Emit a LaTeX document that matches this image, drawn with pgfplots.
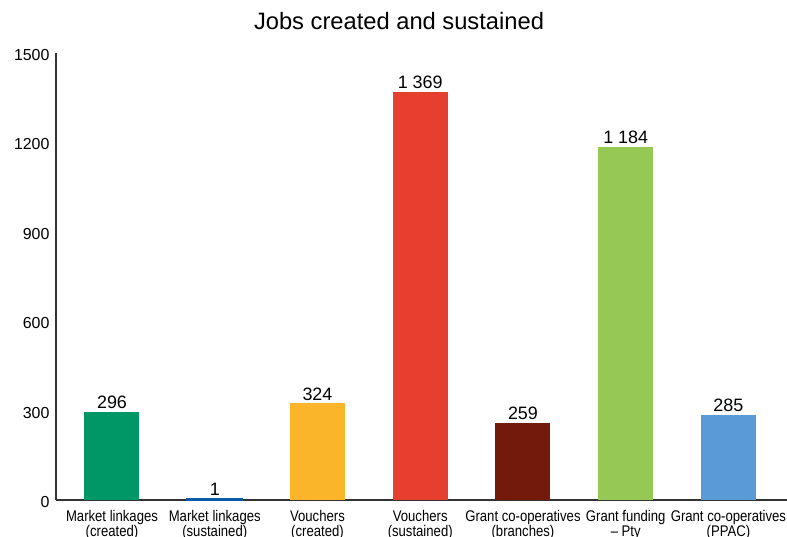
\documentclass[border=0pt]{standalone}
\usepackage{fontspec}
\setmainfont{Liberation Sans}
\newfontfamily\narrowfont[FakeStretch=0.85]{Liberation Sans}
\usepackage{pgfplots}
\pgfplotsset{compat=1.18}
\definecolor{cA}{HTML}{009766}
\definecolor{cB}{HTML}{0A5BAA}
\definecolor{cC}{HTML}{FBB52B}
\definecolor{cD}{HTML}{E63F30}
\definecolor{cE}{HTML}{731A0A}
\definecolor{cF}{HTML}{95C954}
\definecolor{cG}{HTML}{5B9BD5}
\definecolor{axc}{HTML}{333333}
\begin{document}
\begin{tikzpicture}
\useasboundingbox (0,0) rectangle (787bp,537bp);
\clip (0,0) rectangle (787bp,537bp);
\node[font=\fontsize{23.8}{26}\selectfont, anchor=base] at (399bp,537bp-30bp) {Jobs created and sustained};
\begin{axis}[
  at={(56bp,37bp)}, anchor=south west,
  scale only axis, width=731bp, height=447bp,
  xmin=-0.545, xmax=6.57, ymin=0, ymax=1500,
  axis lines*=left,
  axis line style={axc, line width=1.3pt},
  ytick={0,300,600,900,1200,1500},
  xtick={0,1,2,3,4,5,6},
  major tick length=0pt,
  xticklabels={{Market linkages\\(created)},{Market linkages\\(sustained)},{Vouchers\\(created)},{Vouchers\\(sustained)},{Grant co-operatives\\(branches)},{Grant funding\\\textendash\ Pty},{Grant co-operatives\\(PPAC)}},
  xticklabel style={font=\narrowfont\fontsize{15.5}{15}\selectfont, align=center, yshift=-7bp},
  yticklabel style={font=\fontsize{16}{18}\selectfont, xshift=-3bp, yshift=-2bp, /pgf/number format/1000 sep={}},
  /pgf/number format/assume math mode=true,
  ybar, bar width=55bp, bar shift=0pt,
  nodes near coords,
  nodes near coords style={font=\fontsize{18}{20}\selectfont, black, /pgf/number format/1000 sep={\ }, inner sep=3bp},
  clip=false,
]
\addplot[fill=cA, draw=none] coordinates {(0,296)};
\addplot[fill=cB, draw=cB, line width=2.5pt] coordinates {(1,1)};
\addplot[fill=cC, draw=none] coordinates {(2,324)};
\addplot[fill=cD, draw=none] coordinates {(3,1369)};
\addplot[fill=cE, draw=none] coordinates {(4,259)};
\addplot[fill=cF, draw=none] coordinates {(5,1184)};
\addplot[fill=cG, draw=none] coordinates {(6,285)};
\end{axis}
\end{tikzpicture}
\end{document}
